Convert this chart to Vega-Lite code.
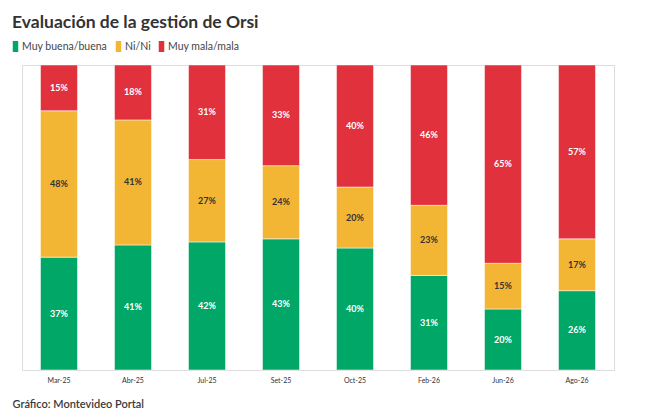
{
  "$schema": "https://vega.github.io/schema/vega-lite/v6.json",
  "description": "Evaluación de la gestión de Orsi",
  "width": 592,
  "height": 305,
  "autosize": "none",
  "padding": {"left": 22, "top": 65, "right": 36, "bottom": 49},
  "background": "white",
  "title": {
    "text": "Evaluación de la gestión de Orsi",
    "anchor": "start",
    "frame": "group",
    "dx": -10,
    "offset": 10,
    "font": "Lato",
    "fontSize": 17.5,
    "fontWeight": "bold",
    "color": "#333333"
  },
  "data": {
    "values": [
      {"mes": "Mar-25", "categoria": "Muy buena/buena", "orden": 1, "valor": 37},
      {"mes": "Mar-25", "categoria": "Ni/Ni", "orden": 2, "valor": 48},
      {"mes": "Mar-25", "categoria": "Muy mala/mala", "orden": 3, "valor": 15},
      {"mes": "Abr-25", "categoria": "Muy buena/buena", "orden": 1, "valor": 41},
      {"mes": "Abr-25", "categoria": "Ni/Ni", "orden": 2, "valor": 41},
      {"mes": "Abr-25", "categoria": "Muy mala/mala", "orden": 3, "valor": 18},
      {"mes": "Jul-25", "categoria": "Muy buena/buena", "orden": 1, "valor": 42},
      {"mes": "Jul-25", "categoria": "Ni/Ni", "orden": 2, "valor": 27},
      {"mes": "Jul-25", "categoria": "Muy mala/mala", "orden": 3, "valor": 31},
      {"mes": "Set-25", "categoria": "Muy buena/buena", "orden": 1, "valor": 43},
      {"mes": "Set-25", "categoria": "Ni/Ni", "orden": 2, "valor": 24},
      {"mes": "Set-25", "categoria": "Muy mala/mala", "orden": 3, "valor": 33},
      {"mes": "Oct-25", "categoria": "Muy buena/buena", "orden": 1, "valor": 40},
      {"mes": "Oct-25", "categoria": "Ni/Ni", "orden": 2, "valor": 20},
      {"mes": "Oct-25", "categoria": "Muy mala/mala", "orden": 3, "valor": 40},
      {"mes": "Feb-26", "categoria": "Muy buena/buena", "orden": 1, "valor": 31},
      {"mes": "Feb-26", "categoria": "Ni/Ni", "orden": 2, "valor": 23},
      {"mes": "Feb-26", "categoria": "Muy mala/mala", "orden": 3, "valor": 46},
      {"mes": "Jun-26", "categoria": "Muy buena/buena", "orden": 1, "valor": 20},
      {"mes": "Jun-26", "categoria": "Ni/Ni", "orden": 2, "valor": 15},
      {"mes": "Jun-26", "categoria": "Muy mala/mala", "orden": 3, "valor": 65},
      {"mes": "Ago-26", "categoria": "Muy buena/buena", "orden": 1, "valor": 26},
      {"mes": "Ago-26", "categoria": "Ni/Ni", "orden": 2, "valor": 17},
      {"mes": "Ago-26", "categoria": "Muy mala/mala", "orden": 3, "valor": 57}
    ]
  },
  "transform": [
    {
      "stack": "valor",
      "groupby": ["mes"],
      "sort": [{"field": "orden", "order": "ascending"}],
      "offset": "normalize",
      "as": ["y0", "y1"]
    },
    {"calculate": "(datum.y0 + datum.y1) / 2", "as": "ymid"},
    {"calculate": "datum.valor + '%'", "as": "etiqueta"}
  ],
  "encoding": {
    "x": {
      "field": "mes",
      "type": "nominal",
      "sort": null,
      "scale": {"paddingInner": 0.5, "paddingOuter": 0.25},
      "axis": {
        "title": "Gráfico: Montevideo Portal",
        "titleAnchor": "start",
        "titleAlign": "left",
        "titleX": -10,
        "titleY": 28,
        "titleFont": "Lato",
        "titleFontSize": 11,
        "titleFontWeight": 600,
        "titleColor": "#3a3a3a",
        "labelAngle": 0,
        "labelFont": "Lato",
        "labelFontSize": 7,
        "labelColor": "#333333",
        "labelPadding": 6,
        "ticks": false,
        "domain": false,
        "grid": false
      }
    }
  },
  "layer": [
    {
      "mark": {"type": "bar", "stroke": "white", "strokeWidth": 0.5},
      "encoding": {
        "y": {
          "field": "y0",
          "type": "quantitative",
          "scale": {"domain": [0, 1]},
          "axis": null
        },
        "y2": {"field": "y1"},
        "color": {
          "field": "categoria",
          "type": "nominal",
          "sort": ["Muy buena/buena", "Ni/Ni", "Muy mala/mala"],
          "scale": {
            "domain": ["Muy buena/buena", "Ni/Ni", "Muy mala/mala"],
            "range": ["#00A766", "#F3B634", "#E0313D"]
          },
          "legend": {
            "title": null,
            "orient": "none",
            "direction": "horizontal",
            "legendX": -12,
            "legendY": -24,
            "symbolType": "M-0.5,-1H0.5V1H-0.5Z",
            "symbolSize": 121,
            "symbolStrokeWidth": 0,
            "symbolOpacity": 1,
            "labelFont": "Lato",
            "labelFontSize": 10.5,
            "labelColor": "#444444",
            "labelOffset": 1,
            "columnPadding": 5
          }
        }
      }
    },
    {
      "mark": {
        "type": "text",
        "font": "Lato",
        "fontSize": 9,
        "fontWeight": "bold",
        "align": "center",
        "baseline": "middle"
      },
      "encoding": {
        "y": {"field": "ymid", "type": "quantitative", "scale": {"domain": [0, 1]}},
        "text": {"field": "etiqueta"},
        "color": {
          "condition": {"test": "datum.categoria === 'Ni/Ni'", "value": "#333333"},
          "value": "white"
        }
      }
    }
  ]
}
